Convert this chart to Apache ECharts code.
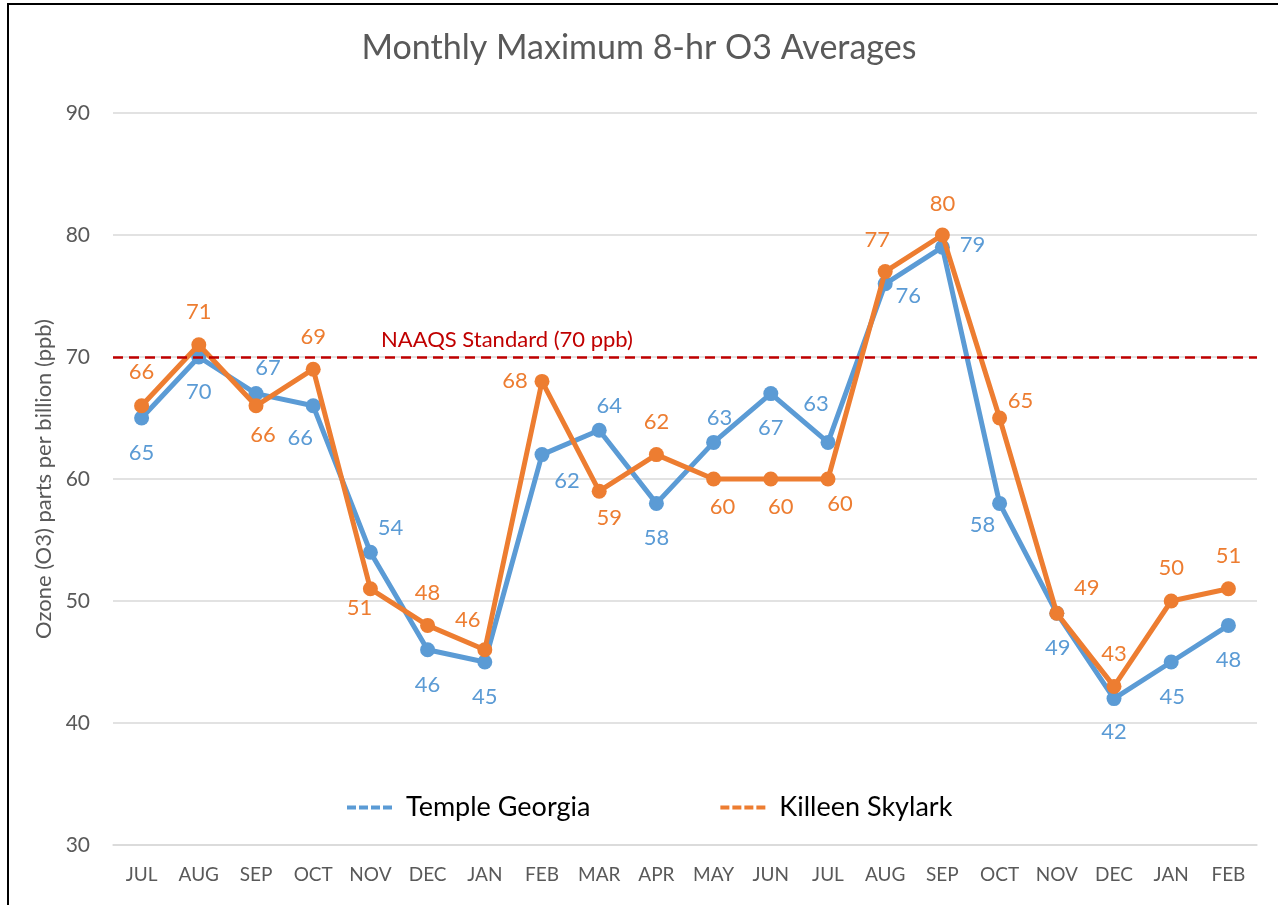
<!DOCTYPE html>
<html>
<head>
<meta charset="utf-8">
<title>Monthly Maximum 8-hr O3 Averages</title>
<script src="https://cdn.jsdelivr.net/npm/echarts@6/dist/echarts.min.js"></script>
<style>
  html, body { margin: 0; padding: 0; background: #fff; }
  #chart { width: 1278px; height: 905px; }
</style>
</head>
<body>
<div id="chart"></div>
<script>
// data
const months = ['JUL', 'AUG', 'SEP', 'OCT', 'NOV', 'DEC', 'JAN', 'FEB', 'MAR', 'APR',
  'MAY', 'JUN', 'JUL', 'AUG', 'SEP', 'OCT', 'NOV', 'DEC', 'JAN', 'FEB'];
const templeGeorgia = [65, 70, 67, 66, 54, 46, 45, 62, 64, 58, 63, 67, 63, 76, 79, 58, 49, 42, 45, 48];
const killeenSkylark = [66, 71, 66, 69, 51, 48, 46, 68, 59, 62, 60, 60, 60, 77, 80, 65, 49, 43, 50, 51];
const naaqsStandard = 70;

// label placement (offset from the point centre), separate from the values
const templeLabelOffset = [[0, 35], [0, 35], [12, -26], [-13, 32], [20, -24], [0, 35], [0, 35],
  [25, 26], [10, -24], [0, 35], [6, -24], [0, 34], [-12, -38], [23, 12], [30, -2], [-17, 22],
  [1, 35], [0, 33], [1, 35], [0, 35]];
const killeenLabelOffset = [[0, -34], [0, -33], [7, 29], [0, -32], [-11, 19], [0, -32], [-17, -30],
  [-27, 0], [10, 27], [0, -33], [9, 28], [10, 28], [12, 25], [-8, -32], [0, -31], [21, -17],
  [30, -25], [0, -32], [0, -33], [0, -33]];

const FONT = 'Lato, "Open Sans", sans-serif';
const BLUE = '#5B9BD5';
const ORANGE = '#ED7D31';

const chart = echarts.init(document.getElementById('chart'));

const withLabels = (values, offsets) => values.map((v, i) => ({
  value: v,
  label: { offset: offsets[i] }
}));

const option = {
  backgroundColor: '#fff',
  textStyle: { fontFamily: FONT },
  title: {
    text: 'Monthly Maximum 8-hr O3 Averages',
    left: 'center',
    top: 26,
    textStyle: { fontFamily: FONT, fontSize: 34, fontWeight: 'normal', color: '#595959' }
  },
  graphic: [{
    type: 'rect',
    shape: { x: 8, y: 4, width: 1300, height: 1000 },
    style: { fill: 'none', stroke: '#000', lineWidth: 2 },
    silent: true
  }],
  legend: {
    top: 789,
    left: 342,
    itemGap: 130,
    itemWidth: 45,
    itemHeight: 14,
    icon: 'path://M0,6 L9,6 L9,10 L0,10 Z M12,6 L21,6 L21,10 L12,10 Z M24,6 L33,6 L33,10 L24,10 Z M36,6 L45,6 L45,10 L36,10 Z',
    textStyle: { fontFamily: FONT, fontSize: 27, color: '#000', padding: [0, 0, 0, 9] }
  },
  grid: { left: 113, right: 21, top: 113, bottom: 60 },
  xAxis: {
    type: 'category',
    data: months,
    boundaryGap: true,
    axisLine: { lineStyle: { color: '#D9D9D9', width: 1.5 } },
    axisTick: { show: false },
    axisLabel: { fontFamily: FONT, fontSize: 19, color: '#595959', margin: 20 }
  },
  yAxis: {
    type: 'value',
    min: 30,
    max: 90,
    interval: 10,
    name: 'Ozone (O3) parts per billion (ppb)',
    nameLocation: 'middle',
    nameGap: 58,
    nameTextStyle: { fontFamily: FONT, fontSize: 22, color: '#595959' },
    axisLine: { show: false },
    axisTick: { show: false },
    axisLabel: { fontFamily: FONT, fontSize: 21, color: '#595959', margin: 23 },
    splitLine: { lineStyle: { color: '#D9D9D9', width: 1.5 } }
  },
  series: [
    {
      name: 'Temple Georgia',
      type: 'line',
      data: withLabels(templeGeorgia, templeLabelOffset),
      color: BLUE,
      symbol: 'circle',
      symbolSize: 15,
      lineStyle: { width: 5, color: BLUE },
      itemStyle: { color: BLUE },
      label: {
        show: true,
        position: 'inside',
        fontFamily: FONT,
        fontSize: 22,
        color: BLUE
      },
      z: 2
    },
    {
      name: 'Killeen Skylark',
      type: 'line',
      data: withLabels(killeenSkylark, killeenLabelOffset),
      color: ORANGE,
      symbol: 'circle',
      symbolSize: 15,
      lineStyle: { width: 5, color: ORANGE },
      itemStyle: { color: ORANGE },
      label: {
        show: true,
        position: 'inside',
        fontFamily: FONT,
        fontSize: 22,
        color: ORANGE
      },
      z: 3,
      markLine: {
        silent: true,
        symbol: 'none',
        lineStyle: { color: '#C00000', type: [10, 6], width: 2.5 },
        label: {
          show: true,
          position: 'insideStartTop',
          distance: [268, 6],
          formatter: 'NAAQS Standard (70 ppb)',
          fontFamily: FONT,
          fontSize: 22,
          color: '#C00000'
        },
        data: [{ yAxis: naaqsStandard }]
      }
    }
  ]
};

chart.setOption(option);
</script>
</body>
</html>
